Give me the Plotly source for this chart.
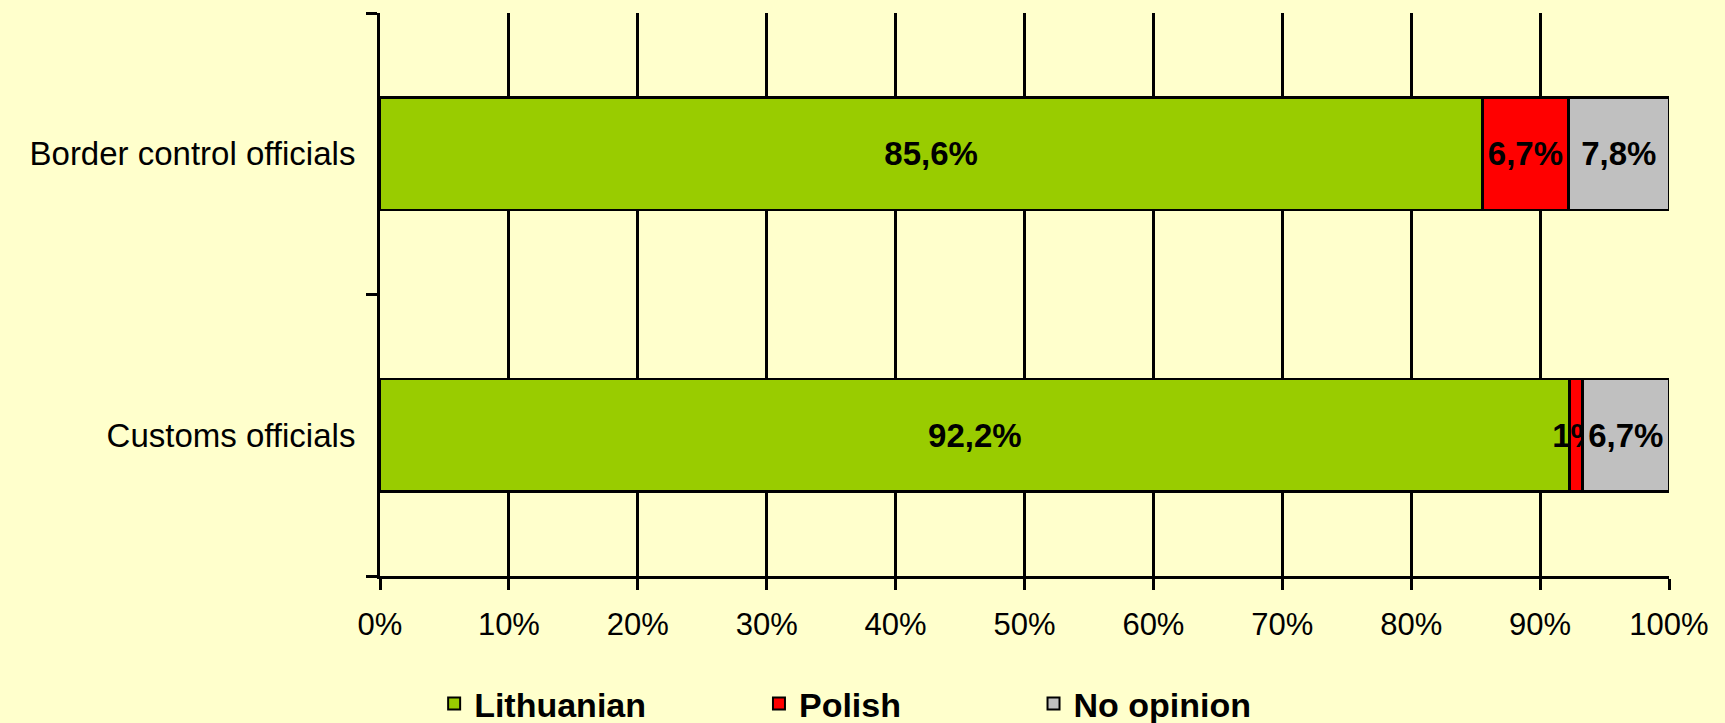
import plotly.graph_objects as go

categories = ["Customs officials", "Border control officials"]
series_names = ["Lithuanian", "Polish", "No opinion"]
lithuanian = [92.2, 85.6]
polish = [1.0, 6.7]
no_opinion = [6.7, 7.8]
lithuanian_labels = ["92,2%", "85,6%"]
polish_labels = ["1%", "6,7%"]
no_opinion_labels = ["6,7%", "7,8%"]
x_ticks = [0, 10, 20, 30, 40, 50, 60, 70, 80, 90, 100]
x_tick_labels = ["0%", "10%", "20%", "30%", "40%", "50%", "60%", "70%", "80%", "90%", "100%"]

colors = ["#99CC00", "#FF0000", "#C0C0C0"]
values = [lithuanian, polish, no_opinion]
labels = [lithuanian_labels, polish_labels, no_opinion_labels]
legend_ids = ["legend", "legend2", "legend3"]
legend_x = [0.042, 0.294, 0.507]

FONT = "Liberation Sans, Arial, sans-serif"

fig = go.Figure()
for name, vals, txt, col, lg in zip(series_names, values, labels, colors, legend_ids):
    fig.add_trace(go.Bar(
        y=categories, x=vals, name=name, orientation="h",
        marker=dict(color=col, line=dict(color="black", width=2.5)),
        text=txt, textposition="inside", insidetextanchor="middle",
        textangle=0, constraintext="none",
        textfont=dict(family=FONT, size=33, color="black", weight="bold"),
        legend=lg, hoverinfo="skip",
    ))

legend_common = dict(
    orientation="h", yanchor="middle", xanchor="left",
    bgcolor="rgba(0,0,0,0)",
    font=dict(family=FONT, size=34, color="black", weight="bold"),
    itemsizing="constant",
)
layout_legends = {}
for lg, lx in zip(legend_ids, legend_x):
    layout_legends[lg] = dict(legend_common, x=lx, y=-0.227, yref="paper")

fig.update_layout(
    barmode="stack", barnorm="percent", bargap=0.6,
    width=1725, height=723,
    margin=dict(l=380, r=56, t=13, b=147, autoexpand=False),
    paper_bgcolor="#FFFFCC", plot_bgcolor="#FFFFCC",
    font=dict(family=FONT, size=31, color="black"),
    showlegend=True,
    **layout_legends,
)
fig.update_xaxes(
    range=[0, 100], tickvals=x_ticks, ticktext=x_tick_labels,
    showgrid=True, gridcolor="black", gridwidth=3,
    showline=True, linecolor="black", linewidth=3,
    ticks="outside", ticklen=11, tickwidth=3, tickcolor="black",
    zeroline=False, ticklabelstandoff=8,
    tickfont=dict(family=FONT, size=31, color="black"),
)
fig.update_yaxes(
    type="category", categoryorder="array", categoryarray=categories,
    showline=True, linecolor="black", linewidth=3,
    ticks="outside", ticklen=11, tickwidth=3, tickcolor="black",
    tickson="boundaries", showgrid=False, ticklabelstandoff=15,
    tickfont=dict(family=FONT, size=33, color="black"),
)
fig.write_html(
    "out.html",
    config={"displayModeBar": False},
    post_script="document.body.style.margin='0';document.body.style.background='#FFFFCC';",
)
